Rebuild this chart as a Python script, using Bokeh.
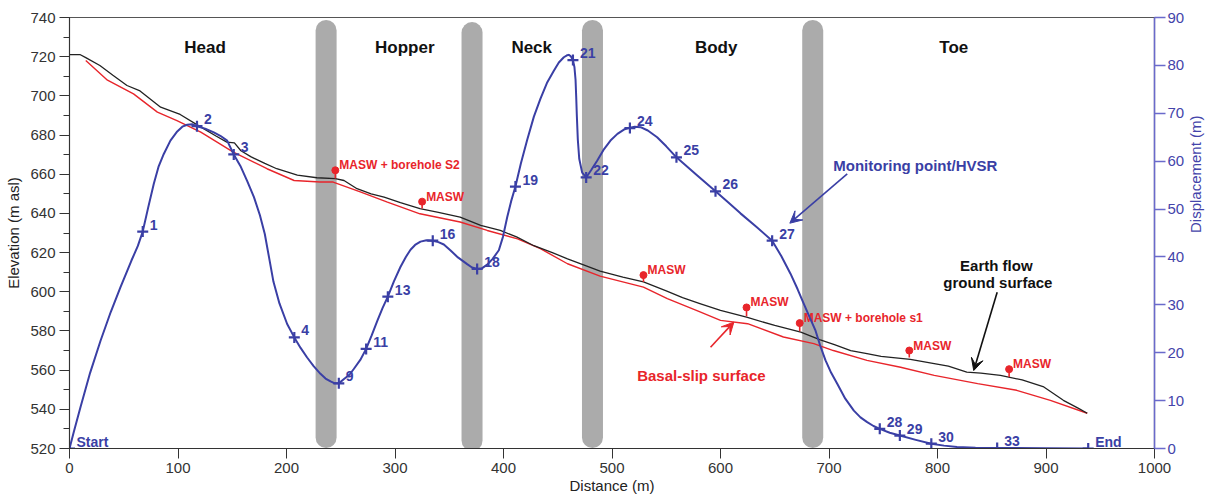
import math
from bokeh.plotting import figure
from bokeh.models import (Range1d, LinearAxis, SingleIntervalTicker, Arrow,
                          VeeHead)
from bokeh.core.properties import value
from bokeh.embed import file_html
from bokeh.resources import INLINE

# ---------------- data ----------------
# ground surface (black), distance (m) / elevation (m asl)
ground_x = [0, 10, 15, 28, 40, 53, 65, 84, 102, 120, 135, 145, 152, 158, 167, 180, 191,
            210, 228, 245, 253, 265, 278, 290, 305, 323, 340, 360, 379, 397, 412, 428,
            445, 459, 475, 489, 510, 529, 550, 565, 581, 600, 624, 650, 674, 692, 705,
            720, 735, 748, 766, 775, 797, 810, 827, 840, 858, 878, 898, 916, 930, 938]
ground_elev = [721, 721, 719.5, 715.5, 710.5, 705.3, 702.5, 694.2, 690.5, 684.4, 679.5,
               676.4, 676, 672, 669, 665.5, 662.8, 659.5, 658.2, 657.8, 656.8, 652.6, 650,
               648.3, 645.5, 642.4, 640.5, 638.1, 633.9, 631.3, 628, 623.5, 620, 616.8,
               613.5, 610.5, 607.5, 605, 600.5, 597, 594, 590.5, 587, 582.8, 579.4, 575.5,
               573, 570, 568.4, 567, 566, 565.5, 563.3, 562, 559, 558.5, 557.3, 555,
               551.4, 544.6, 540.5, 538]

# basal-slip surface (red)
basal_x = [15, 35, 59, 81, 99, 121, 151, 182, 207, 231, 243, 268, 293, 323, 360, 385,
           413, 434, 459, 489, 529, 551, 580, 600, 625, 658, 686, 704, 735, 766, 797,
           837, 873, 904, 938]
basal_elev = [718, 708, 701, 691.7, 687.4, 681.5, 671.3, 662.8, 656.8, 656, 656, 651,
              645.8, 639.8, 635.6, 631.3, 627, 622, 614.3, 608, 602.4, 596.5, 590, 585.4,
              583.7, 576.9, 573.5, 570, 565, 561.5, 557.3, 553.1, 549.7, 544.6, 538]

# displacement curve (blue), distance (m) / displacement (m)
disp_curve_x = [0, 4, 10.1, 19, 28.6, 38, 47, 57, 63, 67.5, 72.5, 77.7, 82, 86.9, 93,
                99.3, 104, 108.5, 113, 117.5, 125, 133, 139, 145.3, 151.4, 157.5, 163.7,
                170, 175.5, 180, 184, 188, 193.5, 200.6, 207.2, 213, 219, 225, 231.3,
                236, 240.6, 244.5, 248.2, 253, 258, 262, 268, 273.4, 278.5, 283.6, 288.5,
                293.4, 299, 305, 310, 314.3, 318.5, 323.5, 329, 334.8, 340, 345, 351,
                358, 366.5, 371, 375.7, 380, 385, 390, 395.7, 399.5, 403.4, 407, 411,
                416, 421.8, 428, 434, 440, 446.4, 451, 455.6, 458.5, 460.2, 462, 464,
                465.4, 466.4, 467, 467.6, 468.5, 469.8, 472.5, 476.2, 481, 486.3, 492,
                498.6, 505, 511, 516.5, 521, 526.3, 533, 541.6, 550, 559.4, 577, 595.4,
                607, 618.4, 633, 647.6, 656, 664.5, 671, 676.8, 682, 687.6, 692, 696.8,
                702, 707.6, 715, 722.9, 729, 735.2, 741, 746.8, 756, 765.3, 780, 794.3,
                806, 818, 835, 855, 900, 938.9]
disp_curve_y = [0, 3.5, 8.6, 15.8, 22.5, 28.5, 33.7, 39.2, 42.3, 45.3, 50.3, 55.3, 58.8,
                61.5, 64.3, 66.2, 67.2, 67.6, 67.7, 67.3, 66.8, 66, 65.3, 64.3, 61.4,
                59, 55.9, 52.5, 48.7, 44.8, 39.8, 34.8, 30.3, 26, 23.2, 21, 19, 17.2,
                15.6, 14.6, 14, 13.6, 13.6, 14.5, 15.4, 16.6, 18.5, 20.8, 23.6, 26.6,
                29.3, 31.7, 34.9, 37.9, 40, 41.5, 42.5, 43.2, 43.5, 43.4, 43.1, 42.6,
                41.4, 39.9, 38.5, 37.8, 37.5, 37.6, 38.4, 39.6, 41.4, 44.2, 48.3, 51.6,
                54.7, 59.5, 64.4, 69.3, 73, 76.3, 78.9, 80.6, 81.7, 82.1, 82.2, 81.9,
                81.1, 79.6, 77, 73.5, 69.5, 64.5, 60.5, 57.6, 56.6, 58.2, 60.1, 62.3,
                64.3, 65.7, 66.6, 67, 67.2, 67.1, 66.4, 65, 63.1, 60.8, 57.3, 53.7,
                51.4, 49.1, 46.3, 43.4, 40.2, 36.5, 33.3, 30.2, 27.5, 24.6, 21.4, 18.4,
                15.8, 13.5, 10.4, 7.9, 6.5, 5.5, 4.7, 4.1, 3.3, 2.7, 1.8, 1.0, 0.6, 0.3,
                0.15, 0.1, 0.05, 0]

# monitoring points
point_labels = ["Start", "1", "2", "3", "4", "9", "11", "13", "16", "18", "19", "21",
                "22", "24", "25", "26", "27", "28", "29", "30", "33", "End"]
point_x = [0, 67.5, 117.5, 151.4, 207.2, 248.2, 273.4, 293.4, 334.8, 375.7, 411, 464,
           476.2, 516.5, 559.4, 595.4, 647.6, 746.8, 765.3, 794.3, 855, 938.9]
point_disp = [0, 45.3, 67.3, 61.4, 23.2, 13.6, 20.8, 31.7, 43.4, 37.5, 54.7, 81.1, 56.6,
              66.9, 60.8, 53.7, 43.4, 4.1, 2.7, 1.0, 0.1, 0]

# MASW sites
masw_labels = ["MASW + borehole S2", "MASW", "MASW", "MASW", "MASW + borehole s1",
               "MASW", "MASW"]
masw_x = [245, 325, 529, 624, 673, 774, 866]
masw_top = [662, 646, 608.5, 592, 584, 570, 560.5]
masw_base = [657.8, 642.5, 605, 587.5, 579.8, 566.5, 556.5]

# zones
zone_names = ["Head", "Hopper", "Neck", "Body", "Toe"]
zone_center = [125, 309, 426, 596, 815]
zone_bounds = [236.5, 371, 482, 685]

FONT = "Liberation Sans"
BLUE = "#3a3fa5"
AXBLUE = "#6a6acb"
RED = "#e8252b"
GRAY = "#ababab"
DARK = "#222222"

p = figure(width=1216, height=497, x_range=Range1d(0, 1000), y_range=Range1d(520, 740),
           output_backend="svg", toolbar_location=None,
           min_border_left=69, min_border_right=62, min_border_top=17,
           min_border_bottom=49)
p.extra_y_ranges = {"disp": Range1d(0, 90)}
p.grid.visible = False
p.outline_line_color = "#555555"
p.outline_line_width = 1.2
p.background_fill_color = "white"

# axes
xa = p.xaxis[0]
xa.ticker = SingleIntervalTicker(interval=100, num_minor_ticks=0)
xa.axis_label = "Distance (m)"
ya = p.yaxis[0]
ya.ticker = SingleIntervalTicker(interval=20, num_minor_ticks=2)
ya.axis_label = "Elevation (m asl)"
for ax in (xa, ya):
    ax.axis_line_color = "#333333"
    ax.major_tick_line_color = "#333333"
    ax.minor_tick_line_color = "#333333"
    ax.major_tick_out = 10
    ax.major_tick_in = 0
    ax.minor_tick_out = 6
    ax.minor_tick_in = 0
    ax.major_label_text_font = FONT
    ax.major_label_text_font_size = "15px"
    ax.major_label_text_color = "#333333"
    ax.axis_label_text_font = FONT
    ax.axis_label_text_font_size = "15px"
    ax.axis_label_text_font_style = "normal"
    ax.axis_label_text_color = "#222222"
    ax.major_label_standoff = 4
    ax.axis_label_standoff = 5
xa.axis_label_standoff = 1

ra = LinearAxis(y_range_name="disp", ticker=SingleIntervalTicker(interval=10, num_minor_ticks=0),
                axis_label="Displacement (m)")
ra.axis_line_color = AXBLUE
ra.axis_line_width = 1.5
ra.major_tick_line_color = AXBLUE
ra.major_tick_line_width = 1.5
ra.major_tick_out = 11
ra.major_tick_in = 0
ra.minor_tick_line_color = None
ra.major_label_text_font = FONT
ra.major_label_text_font_size = "15px"
ra.major_label_text_color = "#4444aa"
ra.major_label_standoff = 2
ra.axis_label_text_font = FONT
ra.axis_label_text_font_size = "15px"
ra.axis_label_text_font_style = "normal"
ra.axis_label_text_color = "#4444aa"
ra.axis_label_standoff = 8
ra.axis_label_orientation = math.pi / 2
p.add_layout(ra, "right")

# zone separators
bar_top = [733.4, 732.3, 733.4, 733.4]
bar_bot = [525.6, 524.1, 525.6, 525.6]
p.segment(x0=zone_bounds, y0=bar_bot, x1=zone_bounds, y1=bar_top, line_width=21,
          line_cap="round", line_color=GRAY)

# surfaces
p.line(basal_x, basal_elev, line_color=RED, line_width=1.4)
p.line(ground_x, ground_elev, line_color=DARK, line_width=1.3)

# MASW pins
p.segment(x0=masw_x, y0=masw_base, x1=masw_x, y1=masw_top, line_color=RED, line_width=1.6)
p.scatter(masw_x, masw_top, size=7, marker="circle", color=RED)
p.text(x=masw_x, y=masw_top, text=masw_labels, text_font=value(FONT),
       text_font_style="bold", text_font_size="12px", text_color=RED,
       text_baseline="middle", text_align="left", x_offset=4, y_offset=-5)

# displacement curve
p.line(disp_curve_x, disp_curve_y, y_range_name="disp", line_color=BLUE, line_width=2,
       line_join="round")
p.scatter(point_x, point_disp, y_range_name="disp", marker="cross", size=11,
          line_color=BLUE, line_width=2.2)
p.text(x=point_x, y=point_disp, y_range_name="disp", text=point_labels,
       text_font=value(FONT), text_font_style="bold", text_font_size="14px",
       text_color=BLUE, text_baseline="middle", text_align="left",
       x_offset=7, y_offset=-7)

# zone names
p.text(x=zone_center, y=[724.7] * len(zone_center), text=zone_names, text_font=value(FONT),
       text_font_style="bold", text_font_size="17px", text_color="#111111",
       text_align="center", text_baseline="middle")

# annotations
p.text(x=[703.9], y=[664.5], text=["Monitoring point/HVSR"], text_font=value(FONT),
       text_font_style="bold", text_font_size="15px", text_color=BLUE,
       text_align="left", text_baseline="middle")
p.add_layout(Arrow(end=VeeHead(size=12, fill_color=BLUE, line_color=BLUE),
                   x_start=716.8, y_start=660.2, x_end=663.9, y_end=635.0,
                   line_color=BLUE, line_width=1.6))

p.text(x=[523.2], y=[557.3], text=["Basal-slip surface"], text_font=value(FONT),
       text_font_style="bold", text_font_size="15px", text_color=RED,
       text_align="left", text_baseline="middle")
p.add_layout(Arrow(end=VeeHead(size=12, fill_color=RED, line_color=RED),
                   x_start=590.8, y_start=571.7, x_end=612.3, y_end=584.5,
                   line_color=RED, line_width=1.6))

p.text(x=[854.2, 855.6], y=[613.4, 604.6], text=["Earth flow", "ground surface"],
       text_font=value(FONT), text_font_style="bold", text_font_size="15px",
       text_color="#111111", text_align="center", text_baseline="middle")
p.add_layout(Arrow(end=VeeHead(size=12, fill_color="#111111", line_color="#111111"),
                   x_start=855, y_start=599.8, x_end=833.4, y_end=559.8,
                   line_color="#111111", line_width=1.6))

open("out.html", "w").write(file_html(p, INLINE))
